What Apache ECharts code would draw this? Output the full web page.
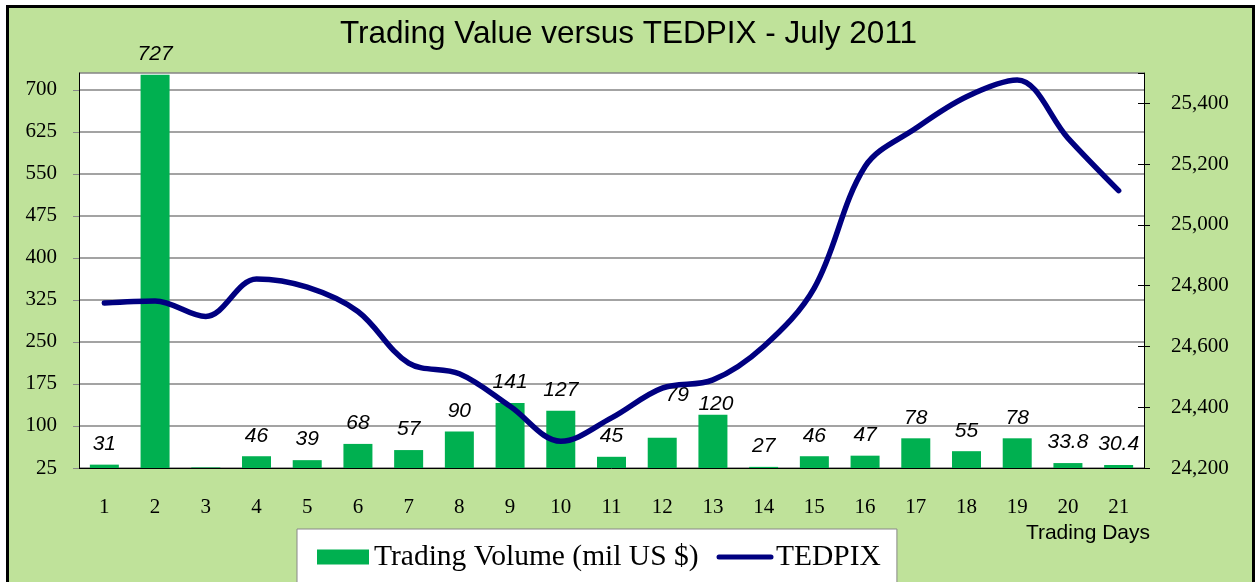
<!DOCTYPE html>
<html>
<head>
<meta charset="utf-8">
<script src="https://cdn.jsdelivr.net/npm/echarts@6/dist/echarts.min.js"></script>
<style>
  html, body { margin: 0; padding: 0; background: #fff; }
  #frame { position: absolute; left: 6px; top: 5px; width: 1243px; height: 600px; border: 3px solid #000; background: #BFE29A; }
  #main { position: absolute; left: 0; top: 0; width: 1257px; height: 582px; }
</style>
</head>
<body>
<div id="frame"></div>
<div id="main"></div>
<script>
// trading days
var days = ['1','2','3','4','5','6','7','8','9','10','11','12','13','14','15','16','17','18','19','20','21'];
// trading volume (mil US $)
var volume = [31, 727, 26, 46, 39, 68, 57, 90, 141, 127, 45, 79, 120, 27, 46, 47, 78, 55, 78, 33.8, 30.4];
// TEDPIX index
var tedpix = [24743, 24750, 24699, 24822, 24795, 24715, 24545, 24510, 24403, 24288, 24365,
              24463, 24490, 24600, 24793, 25192, 25318, 25422, 25477, 25286, 25113];

var serif = '"Liberation Serif", "Times New Roman", serif';
var sans = '"Liberation Sans", Arial, sans-serif';

//build bar items, label tweaks as in the original
var barData = [];
for (var i = 0; i < volume.length; i++) {
	var item = { value: volume[i] };
	if (i == 2) item.label = { show: false };
	if (i == 11) item.label = { offset: [15, -22] };
	if (i == 12) item.label = { offset: [3, 10] };
	barData.push(item);
}

var chart = echarts.init(document.getElementById('main'));

var option = {
	backgroundColor: 'transparent',
	animation: false,
	title: {
		text: 'Trading Value versus TEDPIX - July 2011',
		left: 'center',
		top: 18,
		padding: 0,
		textStyle: { fontFamily: sans, fontSize: 31.5, fontWeight: 'normal', color: '#000' }
	},
	graphic: [{
		type: 'text',
		right: 107,
		top: 523,
		style: { text: 'Trading Days', font: '21px ' + sans, fill: '#000' }
	}],
	legend: {
		left: 297,
		top: 529,
		padding: [13, 16, 30, 20],
		backgroundColor: '#fff',
		borderColor: '#888',
		borderWidth: 1,
		itemGap: 18,
		itemWidth: 52,
		itemHeight: 15,
		textStyle: { fontFamily: serif, fontSize: 29.5, color: '#000' },
		data: [
			{ name: 'Trading Volume (mil US $)', icon: 'rect' },
			{ name: 'TEDPIX', itemStyle: { opacity: 0 }, lineStyle: { width: 5, color: '#000080' } }
		]
	},
	grid: {
		left: 79,
		right: 113,
		top: 73,
		bottom: 114,
		show: true,
		backgroundColor: '#fff',
		borderWidth: 0
	},
	xAxis: {
		type: 'category',
		data: days,
		axisLine: { lineStyle: { color: '#000', width: 1 } },
		axisTick: { length: 5, lineStyle: { color: '#000' } },
		axisLabel: { margin: 29, fontFamily: serif, fontSize: 21, color: '#000' },
		splitLine: { show: false }
	},
	yAxis: [
		{
			type: 'value',
			position: 'left',
			min: 25,
			max: 730,
			interval: 75,
			axisLine: { show: true, lineStyle: { color: '#000', width: 1 } },
			axisTick: { show: true, length: 6, lineStyle: { color: '#888' } },
			axisLabel: { margin: 22, fontFamily: serif, fontSize: 21, color: '#000', showMaxLabel: false },
			splitLine: { show: true, lineStyle: { color: '#858585', width: 1.5 } }
		},
		{
			type: 'value',
			position: 'right',
			min: 24200,
			max: 25500,
			interval: 200,
			axisLine: { show: true, lineStyle: { color: '#000', width: 1 } },
			axisTick: { show: true, length: 6, lineStyle: { color: '#000' } },
			axisLabel: {
				margin: 27, fontFamily: serif, fontSize: 21, color: '#000', showMaxLabel: false,
				formatter: function (v) { return v.toLocaleString('en-US'); }
			},
			splitLine: { show: false }
		},
		{
			//inner half of the crossing ticks on the right axis
			type: 'value',
			position: 'right',
			min: 24200,
			max: 25500,
			interval: 200,
			axisLine: { show: false },
			axisTick: { show: true, inside: true, length: 6, lineStyle: { color: '#000' } },
			axisLabel: { show: false },
			splitLine: { show: false }
		}
	],
	series: [
		{
			name: 'Trading Volume (mil US $)',
			type: 'bar',
			yAxisIndex: 0,
			barWidth: 29,
			itemStyle: { color: '#00B050' },
			label: {
				show: true,
				position: 'top',
				distance: 10,
				fontFamily: sans,
				fontStyle: 'italic',
				fontSize: 21,
				color: '#000'
			},
			data: barData,
			z: 2
		},
		{
			name: 'TEDPIX',
			type: 'line',
			yAxisIndex: 1,
			smooth: 0.35,
			symbol: 'none',
			lineStyle: { color: '#000080', width: 5.5, cap: 'round' },
			itemStyle: { color: '#000080' },
			data: tedpix,
			z: 3
		}
	]
};

chart.setOption(option);
</script>
</body>
</html>
